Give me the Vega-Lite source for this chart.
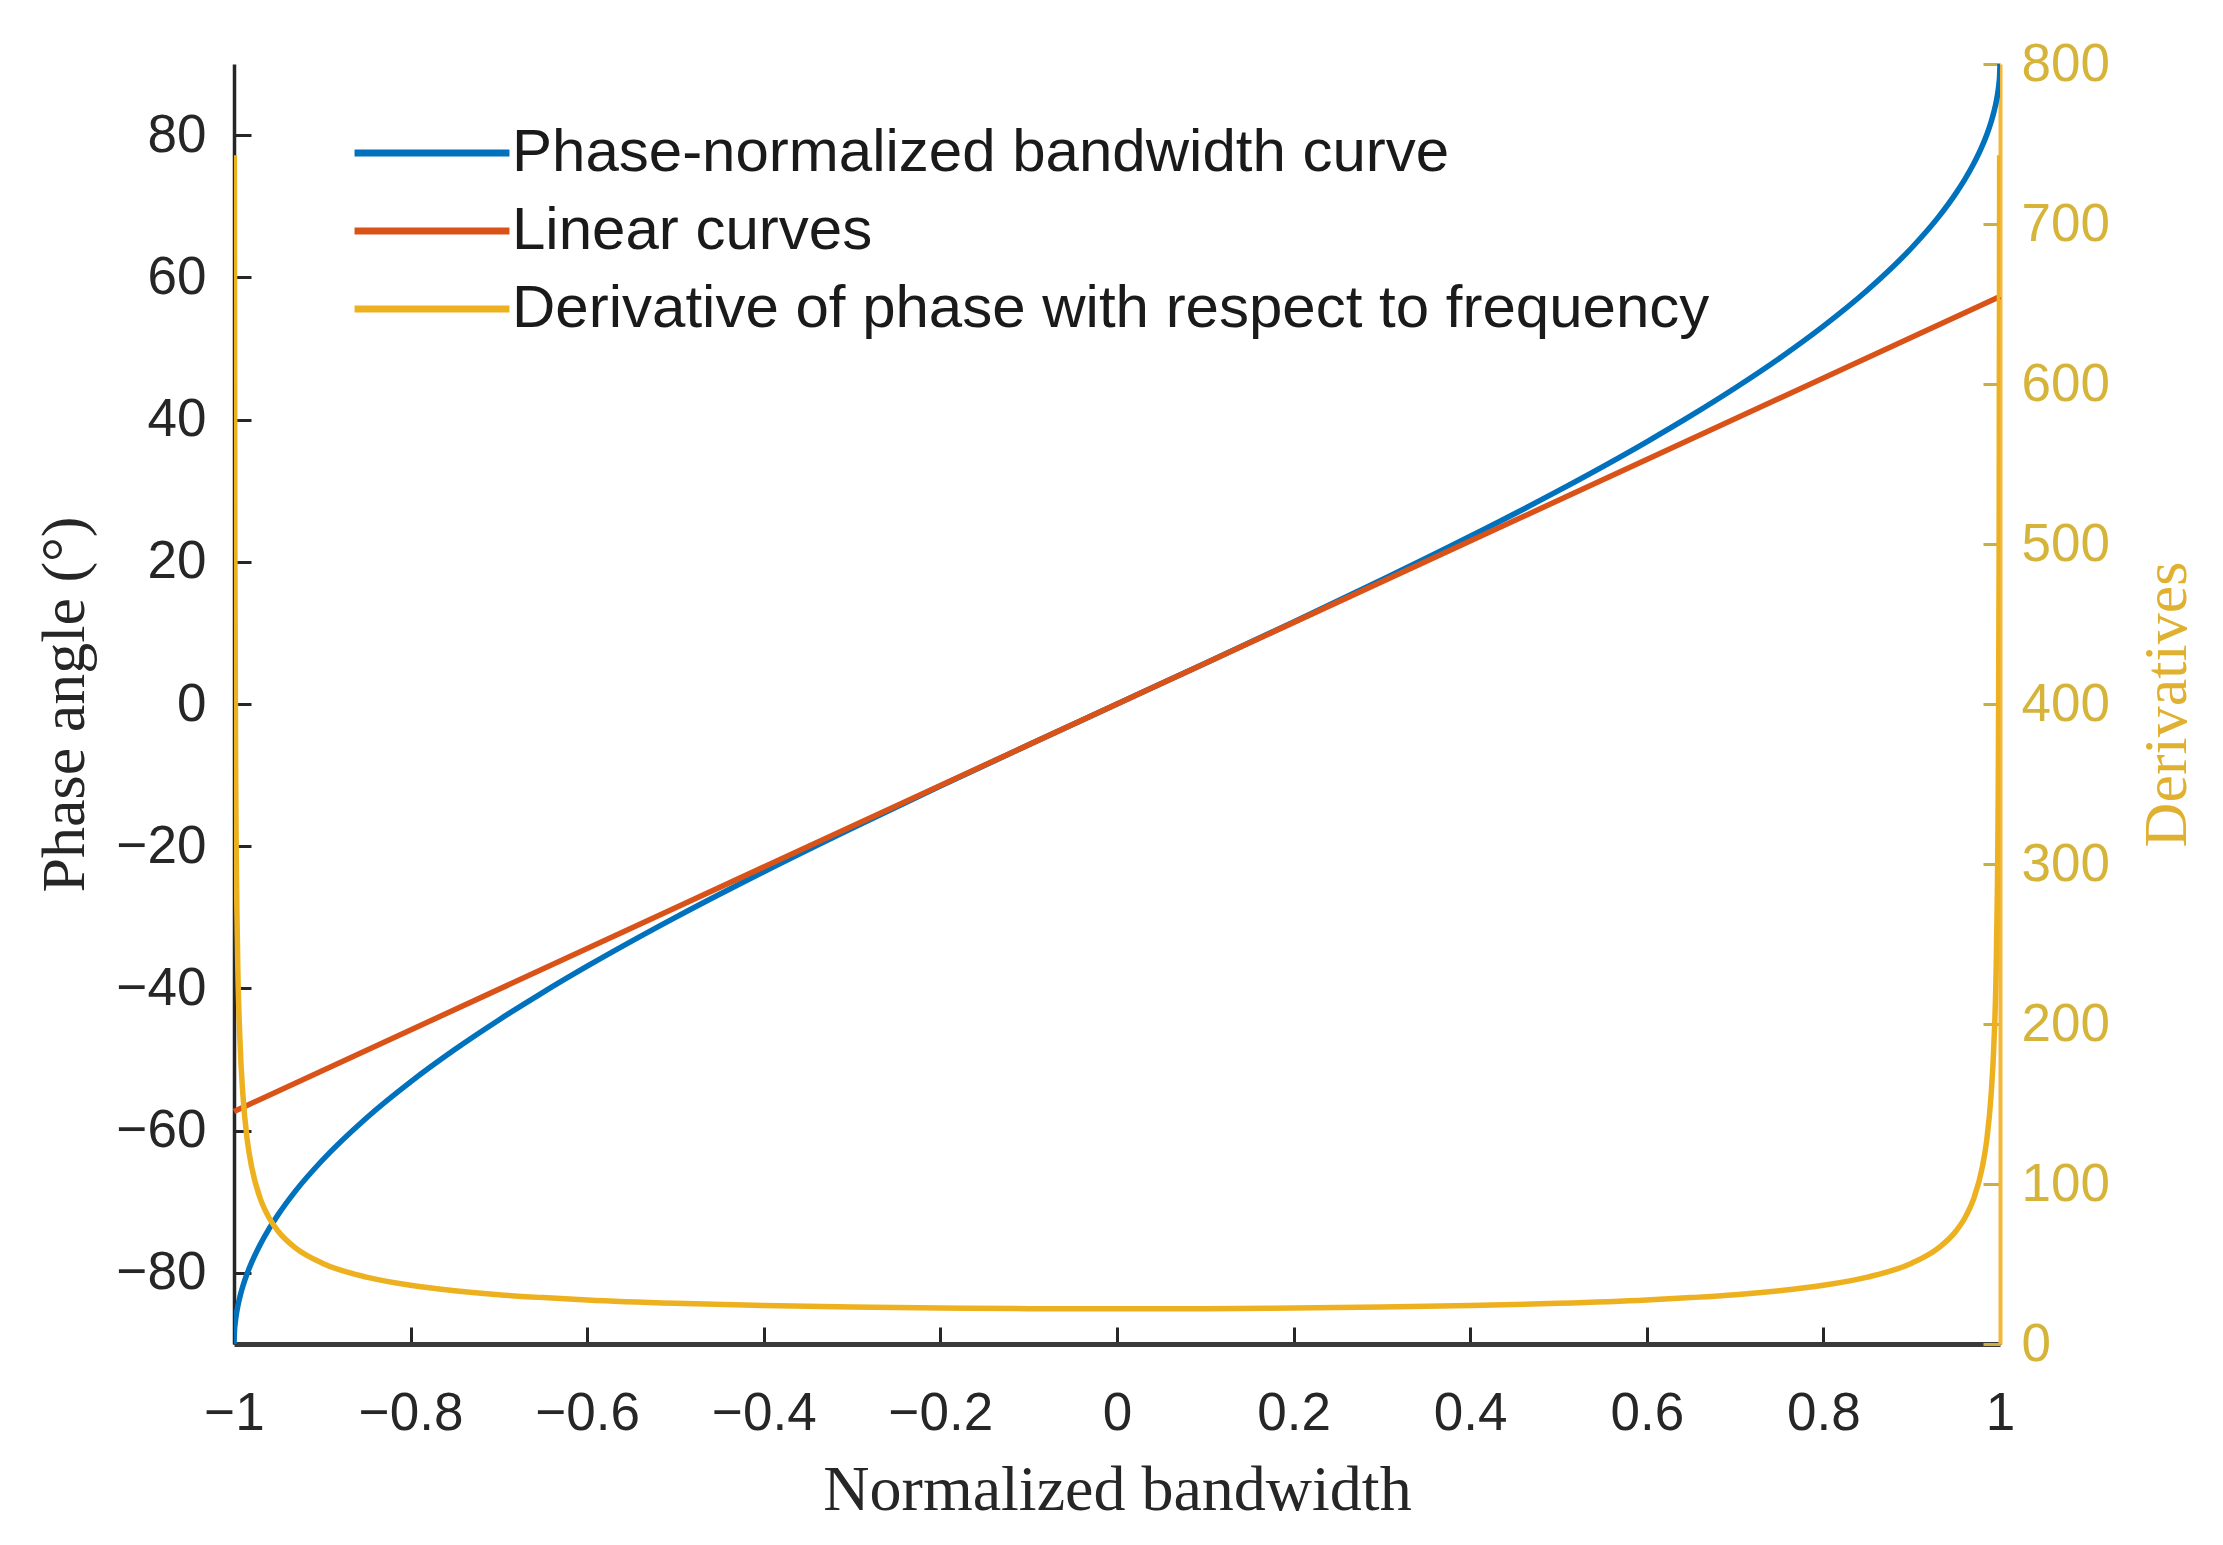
{
  "$schema": "https://vega.github.io/schema/vega-lite/v6.json",
  "width": 1766,
  "height": 1280,
  "autosize": {"type": "none"},
  "padding": {"left": 234, "top": 64, "right": 223, "bottom": 201},
  "background": "white",
  "config": {
    "view": {"stroke": null},
    "axis": {"labelFont": "Liberation Sans", "titleFont": "Liberation Serif", "titleFontWeight": "normal", "grid": false},
    "legend": {"labelFont": "Liberation Sans"}
  },
  "datasets": {
    "phase": [
      {"x": -1, "y": -90}, {"x": -0.9995, "y": -88.19}, {"x": -0.999, "y": -87.44}, {"x": -0.998, "y": -86.38}, {"x": -0.996, "y": -84.87}, {"x": -0.993, "y": -83.22}, {"x": -0.99, "y": -81.89}, {"x": -0.985, "y": -80.06}, {"x": -0.98, "y": -78.52}, {"x": -0.97, "y": -75.93}, {"x": -0.96, "y": -73.74}, {"x": -0.95, "y": -71.81}, {"x": -0.93, "y": -68.43}, {"x": -0.9, "y": -64.16}, {"x": -0.85, "y": -58.21}, {"x": -0.8, "y": -53.13}, {"x": -0.75, "y": -48.59}, {"x": -0.7, "y": -44.43}, {"x": -0.65, "y": -40.54}, {"x": -0.6, "y": -36.87}, {"x": -0.5, "y": -30.0}, {"x": -0.4, "y": -23.58}, {"x": -0.3, "y": -17.46}, {"x": -0.2, "y": -11.54}, {"x": -0.1, "y": -5.74}, {"x": 0, "y": 0},
      {"x": 0.1, "y": 5.74}, {"x": 0.2, "y": 11.54}, {"x": 0.3, "y": 17.46}, {"x": 0.4, "y": 23.58}, {"x": 0.5, "y": 30.0}, {"x": 0.6, "y": 36.87}, {"x": 0.65, "y": 40.54}, {"x": 0.7, "y": 44.43}, {"x": 0.75, "y": 48.59}, {"x": 0.8, "y": 53.13}, {"x": 0.85, "y": 58.21}, {"x": 0.9, "y": 64.16}, {"x": 0.93, "y": 68.43}, {"x": 0.95, "y": 71.81}, {"x": 0.96, "y": 73.74}, {"x": 0.97, "y": 75.93}, {"x": 0.98, "y": 78.52}, {"x": 0.985, "y": 80.06}, {"x": 0.99, "y": 81.89}, {"x": 0.993, "y": 83.22}, {"x": 0.996, "y": 84.87}, {"x": 0.998, "y": 86.38}, {"x": 0.999, "y": 87.44}, {"x": 0.9995, "y": 88.19}, {"x": 1, "y": 90}
    ],
    "linear": [
      {"x": -1, "y": -57.3}, {"x": -0.5, "y": -28.65}, {"x": 0, "y": 0}, {"x": 0.5, "y": 28.65}, {"x": 1, "y": 57.3}
    ],
    "deriv": [
      {"x": -0.9996, "y": 743}, {"x": -0.999, "y": 492.2}, {"x": -0.998, "y": 348.1}, {"x": -0.996, "y": 246.3}, {"x": -0.993, "y": 186.4}, {"x": -0.99, "y": 156.3}, {"x": -0.985, "y": 127.5}, {"x": -0.98, "y": 110.6}, {"x": -0.97, "y": 90.5}, {"x": -0.96, "y": 78.6}, {"x": -0.95, "y": 70.5}, {"x": -0.93, "y": 59.9}, {"x": -0.9, "y": 50.5}, {"x": -0.85, "y": 41.8}, {"x": -0.8, "y": 36.7}, {"x": -0.75, "y": 33.3}, {"x": -0.7, "y": 30.8}, {"x": -0.65, "y": 29.0}, {"x": -0.6, "y": 27.5}, {"x": -0.5, "y": 25.4}, {"x": -0.4, "y": 24.0}, {"x": -0.3, "y": 23.1}, {"x": -0.2, "y": 22.5}, {"x": -0.1, "y": 22.1}, {"x": 0, "y": 22.0},
      {"x": 0.1, "y": 22.1}, {"x": 0.2, "y": 22.5}, {"x": 0.3, "y": 23.1}, {"x": 0.4, "y": 24.0}, {"x": 0.5, "y": 25.4}, {"x": 0.6, "y": 27.5}, {"x": 0.65, "y": 29.0}, {"x": 0.7, "y": 30.8}, {"x": 0.75, "y": 33.3}, {"x": 0.8, "y": 36.7}, {"x": 0.85, "y": 41.8}, {"x": 0.9, "y": 50.5}, {"x": 0.93, "y": 59.9}, {"x": 0.95, "y": 70.5}, {"x": 0.96, "y": 78.6}, {"x": 0.97, "y": 90.5}, {"x": 0.98, "y": 110.6}, {"x": 0.985, "y": 127.5}, {"x": 0.99, "y": 156.3}, {"x": 0.993, "y": 186.4}, {"x": 0.996, "y": 246.3}, {"x": 0.998, "y": 348.1}, {"x": 0.999, "y": 492.2}, {"x": 0.9996, "y": 743}
    ]
  },
  "layer": [
    {
      "layer": [
        {
          "data": {"name": "phase"},
          "mark": {"type": "line", "strokeWidth": 5.5, "interpolate": "monotone", "clip": true},
          "encoding": {
            "x": {"field": "x", "type": "quantitative", "scale": {"domain": [-1, 1], "nice": false, "zero": false},
              "axis": {"values": [-1, -0.8, -0.6, -0.4, -0.2, 0, 0.2, 0.4, 0.6, 0.8, 1], "format": ".1~f", "title": "Normalized bandwidth",
                "domainColor": "#3a3a3a", "domainWidth": 5, "tickColor": "#262626", "tickWidth": 3, "tickSize": -17,
                "labelColor": "#262626", "labelFontSize": 53, "labelPadding": 60, "labelFlush": false,
                "titleFontSize": 64, "titleColor": "#262626", "titleX": 883, "titleY": 146, "titleBaseline": "middle"}},
            "y": {"field": "y", "type": "quantitative", "scale": {"domain": [-90, 90], "nice": false},
              "axis": {"values": [-80, -60, -40, -20, 0, 20, 40, 60, 80], "title": "Phase angle (°)",
                "domainColor": "#262626", "domainWidth": 3.5, "tickColor": "#262626", "tickWidth": 3, "tickSize": -17,
                "labelColor": "#262626", "labelFontSize": 53, "labelPadding": 45,
                "titleFontSize": 62, "titleColor": "#262626", "titleAngle": 270, "titleX": -170, "titleY": 640, "titleBaseline": "middle", "titleAlign": "center"}},
            "color": {"datum": "Phase-normalized bandwidth curve", "type": "nominal",
              "scale": {"domain": ["Phase-normalized bandwidth curve", "Linear curves", "Derivative of phase with respect to frequency"], "range": ["#0072BD", "#D95319", "#EDB120"]},
              "legend": {"orient": "none", "legendX": 117, "legendY": 59, "title": null, "symbolType": "stroke", "symbolSize": 24000, "symbolStrokeWidth": 7, "symbolOpacity": 1, "clipHeight": 60, "labelFontSize": 60, "labelColor": "#1a1a1a", "labelOffset": -1, "rowPadding": 18, "labelLimit": 2000}}
          }
        },
        {
          "data": {"name": "linear"},
          "mark": {"type": "line", "strokeWidth": 5.5},
          "encoding": {
            "x": {"field": "x", "type": "quantitative"},
            "y": {"field": "y", "type": "quantitative"},
            "color": {"datum": "Linear curves", "type": "nominal"}
          }
        }
      ]
    },
    {
      "data": {"name": "deriv"},
      "mark": {"type": "line", "strokeWidth": 5.5, "interpolate": "monotone", "clip": true},
      "encoding": {
        "x": {"field": "x", "type": "quantitative"},
        "y": {"field": "y", "type": "quantitative", "scale": {"domain": [0, 800], "nice": false},
          "axis": {"orient": "right", "values": [0, 100, 200, 300, 400, 500, 600, 700, 800], "title": "Derivatives",
            "domainColor": "#F2B63A", "domainWidth": 4, "tickColor": "#C9B040", "tickWidth": 3, "tickSize": -17,
            "labelColor": "#D6B43A", "labelFontSize": 53, "labelPadding": 38,
            "titleFontSize": 62, "titleColor": "#E0B030", "titleAngle": 270, "titleX": 166, "titleY": 640, "titleBaseline": "middle", "titleAlign": "center"}},
        "color": {"datum": "Derivative of phase with respect to frequency", "type": "nominal"}
      }
    }
  ],
  "resolve": {"scale": {"y": "independent"}}
}
